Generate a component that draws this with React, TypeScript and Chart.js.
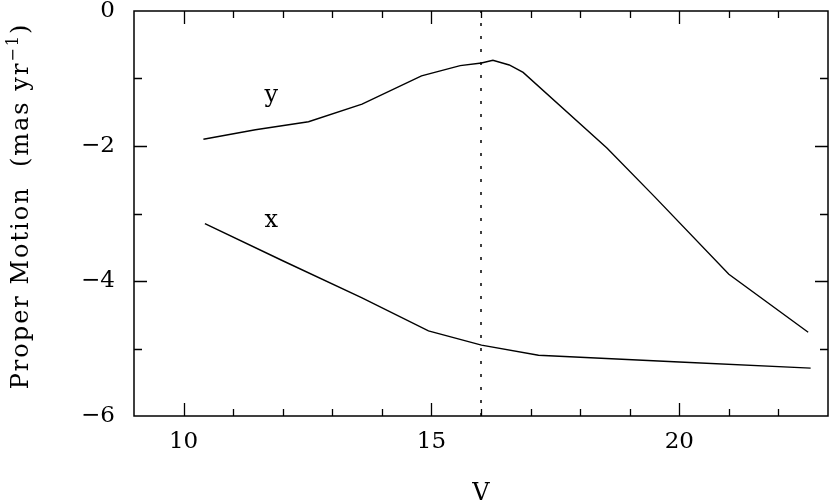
import React, { useEffect, useRef } from "react";
import { Chart, registerables } from "chart.js";
Chart.register(...registerables);

// y-component curve
const vY = [10.4, 11.45, 12.52, 13.6, 14.8, 15.58, 16.01, 16.24, 16.57, 16.85, 18.54, 19.5, 21.0, 22.6];
const pmY = [-1.9, -1.76, -1.64, -1.38, -0.96, -0.81, -0.77, -0.73, -0.8, -0.91, -2.03, -2.75, -3.9, -4.76];
// x-component curve
const vX = [10.43, 12.0, 13.6, 14.94, 16.01, 17.16, 18.0, 20.0, 22.65];
const pmX = [-3.15, -3.7, -4.25, -4.74, -4.95, -5.1, -5.13, -5.2, -5.29];
// dotted vertical marker
const markV = [16, 16];
const markPM = [-6, 0];
// curve annotations
const curveNames = ["y", "x"];
const curveNameV = [11.77, 11.77];
const curveNamePM = [-1.35, -3.2];
// axes
const xMin = 9, xMax = 23, xMajor = 5;
const yMin = -6, yMax = 0, yMajor = 2;
const xTitle = "V";
const yTitleMain = "Proper Motion  (mas yr";
const yTitleSup = "\u22121";
const yTitleEnd = ")";

const FONT = '"DejaVu Serif", "Liberation Serif", serif';

const framePlugin = {
  id: "frame",
  afterDraw(chart: any) {
    const { ctx, chartArea, scales } = chart;
    const { left, right, top, bottom } = chartArea;
    const x = scales.x, y = scales.y;
    ctx.save();
    ctx.strokeStyle = "#000";
    ctx.lineWidth = 1.5;
    ctx.strokeRect(left, top, right - left, bottom - top);
    ctx.lineWidth = 1.3;
    ctx.beginPath();
    for (let v = xMin + 1; v < xMax; v++) {
      const px = Math.round(x.getPixelForValue(v)) + 0.5;
      const len = v % xMajor === 0 ? 13 : 7;
      ctx.moveTo(px, bottom); ctx.lineTo(px, bottom - len);
      ctx.moveTo(px, top); ctx.lineTo(px, top + len);
    }
    for (let v = yMin + 1; v < yMax; v++) {
      const py = Math.round(y.getPixelForValue(v)) + 0.5;
      const len = v % yMajor === 0 ? 13 : 8;
      ctx.moveTo(left, py); ctx.lineTo(left + len, py);
      ctx.moveTo(right, py); ctx.lineTo(right - len, py);
    }
    ctx.stroke();

    ctx.fillStyle = "#000";
    ctx.font = "24px " + FONT;
    ctx.textAlign = "center";
    ctx.textBaseline = "alphabetic";
    for (let i = 0; i < curveNames.length; i++) {
      ctx.fillText(curveNames[i], x.getPixelForValue(curveNameV[i]), y.getPixelForValue(curveNamePM[i]));
    }
    ctx.fillText(xTitle, (left + right) / 2, 500);

    // y title, rotated
    ctx.translate(28, 206);
    ctx.rotate(-Math.PI / 2);
    ctx.textAlign = "left";
    (ctx as any).letterSpacing = "2px";
    ctx.font = "24px " + FONT;
    const w1 = ctx.measureText(yTitleMain).width;
    const w3 = ctx.measureText(yTitleEnd).width;
    ctx.font = "16px " + FONT;
    const w2 = ctx.measureText(yTitleSup).width;
    const total = w1 + w2 + w3;
    let cx = -total / 2;
    ctx.font = "24px " + FONT;
    ctx.fillText(yTitleMain, cx, 0);
    cx += w1;
    ctx.font = "16px " + FONT;
    ctx.fillText(yTitleSup, cx, -10);
    cx += w2;
    ctx.font = "24px " + FONT;
    ctx.fillText(yTitleEnd, cx, 0);
    ctx.restore();
  },
};

export default function App() {
  const ref = useRef<HTMLCanvasElement>(null);
  useEffect(() => {
    if (!ref.current) return;
    const chart = new Chart(ref.current, {
      type: "line",
      data: {
        datasets: [
          {
            data: vY.map((v, i) => ({ x: v, y: pmY[i] })),
            borderColor: "#000",
            borderWidth: 1.4,
            pointRadius: 0,
            fill: false,
            tension: 0,
          },
          {
            data: vX.map((v, i) => ({ x: v, y: pmX[i] })),
            borderColor: "#000",
            borderWidth: 1.4,
            pointRadius: 0,
            fill: false,
            tension: 0,
          },
          {
            data: markV.map((v, i) => ({ x: v, y: markPM[i] })),
            borderColor: "#000",
            borderWidth: 1.5,
            borderDash: [3, 10],
            pointRadius: 0,
            fill: false,
          },
        ],
      },
      options: {
        responsive: false,
        animation: false,
        layout: { padding: { top: 11, right: 2, left: 0, bottom: 0 } },
        plugins: { legend: { display: false }, tooltip: { enabled: false } },
        scales: {
          x: {
            type: "linear",
            min: xMin,
            max: xMax,
            grid: { display: false, drawTicks: false },
            border: { display: false },
            ticks: {
              stepSize: xMajor,
              includeBounds: false,
              color: "#000",
              padding: 12,
              maxRotation: 0,
              font: { family: FONT, size: 23 },
            },
            afterFit(scale: any) {
              scale.height = 87;
              scale.paddingLeft = 0;
              scale.paddingRight = 0;
            },
          },
          y: {
            type: "linear",
            min: yMin,
            max: yMax,
            grid: { display: false, drawTicks: false },
            border: { display: false },
            ticks: {
              stepSize: yMajor,
              includeBounds: false,
              color: "#000",
              padding: 19,
              font: { family: FONT, size: 23 },
              callback: (v: any) => (v < 0 ? "\u2212" + Math.abs(v) : String(v)),
            },
            afterFit(scale: any) {
              scale.width = 134;
              scale.paddingTop = 0;
              scale.paddingBottom = 0;
            },
          },
        },
      },
      plugins: [framePlugin],
    });
    return () => chart.destroy();
  }, []);
  return (
    <div style={{ position: "fixed", left: 0, top: 0, width: 830, height: 503, background: "#fff" }}>
      <canvas ref={ref} width={830} height={503} style={{ width: 830, height: 503 }} />
    </div>
  );
}
